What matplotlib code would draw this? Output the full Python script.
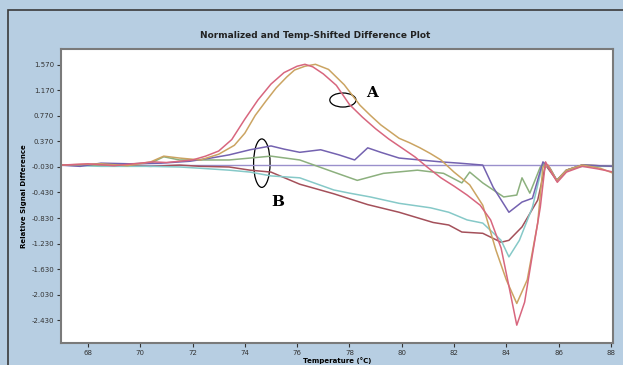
import numpy as np
import matplotlib
matplotlib.use("Agg")
import matplotlib.pyplot as plt
from matplotlib.patches import Ellipse, Rectangle

# curve data (temperature in C, relative signal difference)
pink_t = [67.0, 68.0, 69.0, 70.0, 70.5, 71.0, 71.5, 72.0, 72.5, 73.0, 73.5, 74.0, 74.5, 75.0, 75.5,
          76.0, 76.3, 76.6, 77.0, 77.5, 78.0, 78.5, 79.0, 79.5, 80.0, 80.5, 81.0, 81.5, 82.0, 82.5,
          83.0, 83.4, 83.8, 84.1, 84.4, 84.7, 85.0, 85.3, 85.5, 85.7, 85.95, 86.3, 86.9, 87.5, 88.1]
pink_v = [0.0, 0.02, -0.01, 0.03, 0.05, 0.04, 0.06, 0.08, 0.14, 0.22, 0.40, 0.72, 1.02, 1.27, 1.45,
          1.55, 1.58, 1.54, 1.43, 1.25, 0.95, 0.75, 0.57, 0.41, 0.27, 0.13, -0.04, -0.20, -0.33, -0.47,
          -0.63, -0.86, -1.30, -1.90, -2.51, -2.15, -1.40, -0.66, 0.05, -0.10, -0.27, -0.11, -0.02, -0.06, -0.11]

olive_t = [67.0, 68.5, 69.5, 70.4, 70.9, 71.5, 72.3, 73.0, 73.6, 74.0, 74.4, 74.8, 75.2, 75.6, 75.9,
           76.3, 76.7, 77.2, 77.8, 78.4, 78.8, 79.2, 79.9, 80.3, 80.7, 81.1, 81.5, 82.0, 82.6, 83.1,
           83.6, 84.0, 84.4, 84.8, 85.2, 85.4, 85.6, 85.93, 86.3, 86.9, 87.6, 88.1]
olive_v = [0.0, 0.02, -0.01, 0.05, 0.14, 0.11, 0.08, 0.17, 0.31, 0.50, 0.78, 1.00, 1.21, 1.38, 1.49,
           1.55, 1.58, 1.50, 1.26, 0.94, 0.78, 0.63, 0.42, 0.35, 0.27, 0.18, 0.08, -0.11, -0.31, -0.63,
           -1.33, -1.80, -2.17, -1.80, -0.91, -0.03, 0.0, -0.24, -0.08, 0.0, -0.05, -0.13]

purple_t = [67.0, 67.7, 68.5, 69.6, 70.8, 71.9, 72.7, 73.4, 74.2, 75.0, 75.5, 76.1, 76.9, 77.6, 78.2,
            78.7, 79.2, 79.9, 80.7, 81.5, 82.2, 83.1, 83.5, 84.1, 84.6, 85.0, 85.4, 85.67, 85.93, 86.3,
            86.9, 88.1]
purple_v = [0.0, -0.02, 0.03, 0.02, 0.03, 0.06, 0.11, 0.16, 0.24, 0.30, 0.25, 0.20, 0.24, 0.16, 0.08,
            0.27, 0.20, 0.11, 0.08, 0.05, 0.03, 0.0, -0.35, -0.74, -0.58, -0.52, 0.05, -0.05, -0.24, -0.08,
            0.0, -0.02]

green_t = [67.0, 68.5, 70.4, 70.9, 71.5, 72.7, 73.4, 74.2, 75.0, 76.1, 77.4, 78.3, 79.3, 80.6, 81.6,
           82.3, 82.6, 83.1, 83.9, 84.4, 84.6, 84.9, 85.3, 85.5, 85.93, 86.3, 86.9, 88.1]
green_v = [0.0, 0.0, 0.03, 0.13, 0.08, 0.08, 0.08, 0.11, 0.14, 0.08, -0.11, -0.24, -0.13, -0.08, -0.13,
           -0.28, -0.11, -0.28, -0.50, -0.47, -0.20, -0.44, -0.03, 0.03, -0.24, -0.08, 0.0, -0.02]

teal_t = [67.0, 68.5, 70.4, 71.5, 72.3, 73.4, 74.2, 75.0, 76.1, 77.4, 78.0, 78.8, 79.9, 81.1, 81.8,
          82.5, 83.1, 83.8, 84.1, 84.5, 85.0, 85.4, 85.67, 85.93, 86.3, 86.9, 88.1]
teal_v = [0.0, -0.02, -0.02, -0.03, -0.05, -0.08, -0.11, -0.17, -0.20, -0.39, -0.44, -0.50, -0.60, -0.67, -0.74,
          -0.86, -0.91, -1.18, -1.44, -1.18, -0.66, 0.03, -0.05, -0.24, -0.08, -0.02, -0.02]

brown_t = [67.0, 68.5, 70.4, 71.5, 72.3, 73.4, 74.2, 75.0, 76.1, 77.4, 78.7, 79.9, 81.2, 81.8, 82.3,
           83.1, 83.8, 84.1, 84.6, 85.2, 85.5, 85.93, 86.3, 86.9, 88.1]
brown_v = [0.0, 0.0, -0.02, 0.0, -0.02, -0.03, -0.08, -0.11, -0.30, -0.45, -0.62, -0.74, -0.90, -0.94, -1.05,
           -1.07, -1.21, -1.18, -0.97, -0.55, 0.0, -0.24, -0.08, 0.0, -0.02]

x_ticks = [68, 70, 72, 74, 76, 78, 80, 82, 84, 86, 88]
y_ticks = [1.57, 1.17, 0.77, 0.37, -0.03, -0.43, -0.83, -1.23, -1.63, -2.03, -2.43]

bg = "#b7cee2"
fig = plt.figure(figsize=(6.23, 3.65), dpi=100, facecolor=bg)
# dark frame of the outer window (only top and left visible)
fig.patches.append(Rectangle((8 / 623, -0.1), 1.2, (365 - 10) / 365 + 0.1, transform=fig.transFigure,
                             fill=False, edgecolor="#3a3a3a", lw=1.2))

ax = fig.add_axes([61 / 623, 1 - 343 / 365, 552 / 623, 294 / 365])
ax.set_facecolor("white")

ax.axhline(0, color="#9a90cc", lw=1.0)
ax.plot(brown_t, brown_v, color="#a4505a", lw=1.1)
ax.plot(teal_t, teal_v, color="#86c9c8", lw=1.1)
ax.plot(green_t, green_v, color="#8cb07e", lw=1.1)
ax.plot(purple_t, purple_v, color="#7462b0", lw=1.1)
ax.plot(olive_t, olive_v, color="#cba462", lw=1.1)
ax.plot(pink_t, pink_v, color="#d8667e", lw=1.1)

ax.set_xlim(66.97, 88.08)
ax.set_ylim(-2.79, 1.82)
ax.set_xticks(x_ticks)
ax.set_xticklabels([str(t) for t in x_ticks])
ax.set_yticks(y_ticks)
ax.set_yticklabels(["%.3f" % v for v in y_ticks])
ax.tick_params(labelsize=5, colors="#333333", length=3, width=0.8, pad=2)
for s in ax.spines.values():
    s.set_color("#7a7a7a")
    s.set_linewidth(1.5)

ax.set_xlabel("Temperature (\u00b0C)", fontsize=5, fontweight="bold", labelpad=1)
ax.set_ylabel("Relative Signal Difference", fontsize=5, fontweight="bold", labelpad=3)
fig.text(315 / 623, 1 - 35 / 365, "Normalized and Temp-Shifted Difference Plot",
         ha="center", va="center", fontsize=6.5, fontweight="bold", color="#222222")

# annotation ellipses and letters
ax.add_patch(Ellipse((77.75, 1.02), 1.0, 0.22, fill=False, edgecolor="black", lw=0.9))
ax.add_patch(Ellipse((74.65, 0.03), 0.63, 0.76, fill=False, edgecolor="black", lw=0.9))
ax.text(78.85, 1.13, "A", fontsize=11, fontweight="bold", ha="center", va="center", family="DejaVu Serif")
ax.text(75.27, -0.58, "B", fontsize=11, fontweight="bold", ha="center", va="center", family="DejaVu Serif")

fig.savefig("out.png", dpi=100, facecolor=bg)
